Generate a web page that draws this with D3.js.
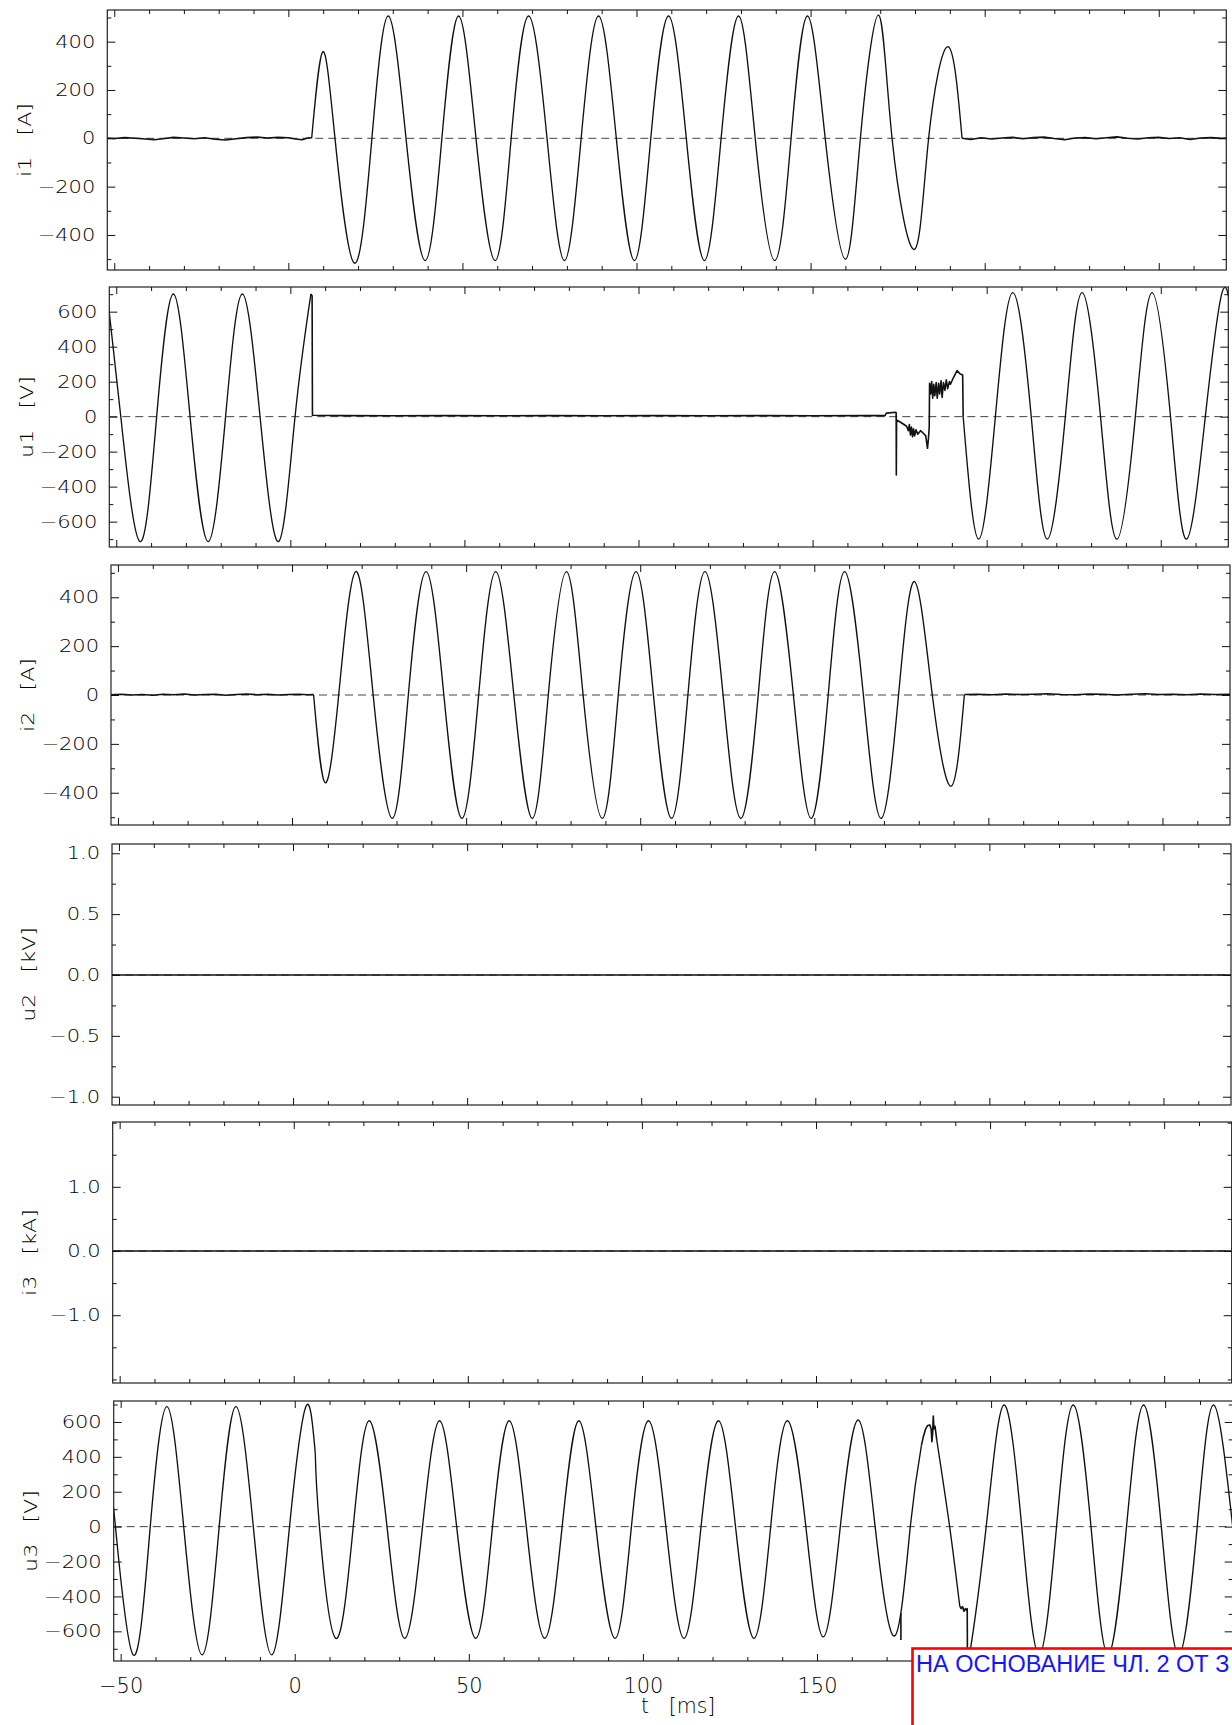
<!DOCTYPE html>
<html lang="bg">
<head>
<meta charset="UTF-8">
<title>Oscillogram i1 u1 i2 u2 i3 u3</title>
<script src="https://d3js.org/d3.v7.min.js"></script>
<style>
    body { margin: 0; background: #fff; }
    svg { display: block; background: #fff; }
</style>
</head>
<body>
<svg width="1232" height="1725"></svg>
<script>
    // time axis, ms (200 and 250 sit under the stamp, so they carry no label)
    const tMajor = [-50, 0, 50, 100, 150, 200, 250];
    const tLabels = ["−50", "0", "50", "100", "150", "", ""];

    // y tick labels of each panel
    const i1Ticks = [-400, -200, 0, 200, 400];
    const u1Ticks = [-600, -400, -200, 0, 200, 400, 600];
    const i2Ticks = [-400, -200, 0, 200, 400];
    const u2Ticks = [-1.0, -0.5, 0.0, 0.5, 1.0];
    const i3Ticks = [-1.0, 0.0, 1.0];
    const u3Ticks = [-600, -400, -200, 0, 200, 400, 600];

    // i1 [A]  (t, value)
    const i1Pre = [[-52.5, 2], [-50, -1], [-47, 3], [-44, 0], [-41, -3], [-38.5, -6], [-36, -2], [-33, 4],
        [-30, 1], [-27, -2], [-24, 2], [-21, -4], [-18, -7], [-15, -2], [-12, 3], [-9, 5], [-6, 1],
        [-3, 4], [0, 2], [2, -3], [4, -6], [5.5, 1], [6.7, 2]];
    const i1Wave = [[6.7, 0], [9.9, 358], [13.4, 0], [19.0, -517], [24.0, 0], [28.7, 506],
        [33.8, 0], [39.3, -506], [44.1, 0], [48.9, 506], [53.9, 0], [59.4, -506],
        [64.0, 0], [69.0, 506], [74.3, 0], [79.3, -506], [84.1, 0], [89.1, 506],
        [94.2, 0], [99.4, -506], [104.1, 0], [109.2, 506], [114.3, 0], [119.5, -506],
        [124.3, 0], [129.3, 506], [134.1, 0], [139.7, -506], [144.4, 0], [149.1, 506],
        [154.2, 0], [160.0, -500], [164.3, 0], [169.5, 510], [173.4, 0], [179.8, -460],
        [183.9, 0], [189.5, 379], [193.5, 0]];
    const i1Post = [[193.5, 0], [196, -5], [199, 2], [202, -3], [205, 1], [208, 4], [211, -2], [214, 3],
        [217, 5], [220, -1], [223, -6], [226, 1], [229, 3], [232, -2], [235, 2], [238, 6], [241, 0],
        [244, -3], [247, 2], [250, 4], [253, -1], [256, 2], [259, -5], [262, 1], [265, 3], [268, 0], [272, 2]];

    // u1 [V]
    const u1WaveA = [[-52.2, 630], [-48.7, 0], [-43.2, -714], [-38.4, 0], [-33.6, 701], [-28.8, 0],
        [-23.6, -714], [-18.6, 0], [-13.8, 701], [-8.7, 0], [-3.4, -714], [1.35, 0], [5.9, 701]];
    const u1Event = [[5.9, 701], [6.25, 690], [6.35, 8], [15, 6], [30, 5], [45, 6], [60, 5], [75, 6], [90, 5],
        [105, 6], [120, 5], [135, 6], [150, 5], [165, 6], [170.8, 6], [171.2, 20], [173.9, 25],
        [174.0, 22], [174.05, -333], [174.12, -19], [175.5, -35], [177.0, -55], [177.5, -80],
        [177.8, -45], [178.1, -105], [178.4, -60], [178.7, -115], [179.0, -70], [179.3, -110],
        [179.7, -75], [180.2, -100], [181.0, -80], [181.8, -95], [182.5, -110], [183.0, -181],
        [183.3, -120], [183.5, -60], [183.6, 191], [183.9, 130], [184.2, 200], [184.5, 105],
        [184.8, 185], [185.1, 120], [185.5, 195], [185.8, 105], [186.2, 190], [186.5, 130],
        [186.9, 205], [187.2, 110], [187.6, 195], [188.0, 150], [188.4, 210], [188.8, 160],
        [189.3, 200], [189.6, 185], [190.5, 225], [191.5, 263], [192.3, 245], [193.1, 238], [193.25, 0]];
    const u1WaveB = [[193.25, 0], [197.7, -700], [202.5, 0], [207.5, 709], [212.8, 0], [217.4, -700],
        [222.6, 0], [227.4, 709], [232.7, 0], [237.4, -700], [242.7, 0], [247.5, 709], [252.8, 0],
        [257.4, -700], [262.8, 0], [267.6, 709], [270.5, 555]];

    // i2 [A]
    const i2Pre = [[-52.5, 1], [-49, 3], [-46, 0], [-43, 2], [-40, -1], [-37, 3], [-34, 1], [-31, 4],
        [-28, 0], [-25, 2], [-22, 3], [-19, -1], [-16, 2], [-13, 4], [-10, 1], [-7, 3], [-4, 0],
        [-1, 2], [2, 3], [4.5, 1], [6.2, 2]];
    const i2Wave = [[6.2, 0], [9.5, -359], [13.4, 0], [18.3, 505], [23.3, 0], [28.8, -505],
        [33.4, 0], [38.5, 505], [43.6, 0], [48.8, -505], [53.6, 0], [58.5, 505],
        [63.7, 0], [69.0, -505], [73.6, 0], [78.8, 505], [83.6, 0], [89.1, -505],
        [93.7, 0], [98.8, 505], [103.8, 0], [109.0, -505], [113.7, 0], [118.6, 505],
        [123.8, 0], [128.9, -505], [133.9, 0], [138.6, 505], [144.0, 0], [149.1, -505],
        [154.0, 0], [158.7, 505], [164.1, 0], [169.2, -505], [174.2, 0], [178.8, 464],
        [183.9, 0], [189.3, -373], [193.1, 0]];
    const i2Post = [[193.1, 2], [197, 3], [201, 1], [205, 4], [209, 2], [213, 3], [217, 5], [221, 2],
        [225, 1], [229, 4], [233, 3], [237, 0], [241, 3], [245, 5], [249, 2], [253, 3], [257, 1],
        [261, 4], [265, 2], [272, 3]];

    // u2 [kV], i3 [kA]
    const u2Line = [[-53, 0], [272, 0]];
    const i3Line = [[-53, 0], [272, 0]];

    // u3 [V]
    const u3WaveA = [[-52.2, 60], [-51.5, 0], [-46.4, -735], [-41.5, 0], [-36.7, 688], [-31.9, 0],
        [-26.6, -735], [-21.7, 0], [-16.9, 688], [-11.9, 0], [-6.6, -735], [-1.5, 0], [3.2, 688], [5.9, 420]];
    const u3WaveB = [[5.9, 420], [7.1, 0], [11.8, -640], [16.8, 0], [21.4, 607], [26.5, 0],
        [31.6, -640], [36.7, 0], [41.6, 607], [46.5, 0], [52.0, -640], [56.8, 0], [61.6, 607],
        [66.5, 0], [71.8, -640], [76.8, 0], [81.6, 607], [86.5, 0], [92.0, -640], [96.7, 0],
        [101.6, 607], [106.6, 0], [111.8, -640], [116.7, 0], [121.7, 607], [126.6, 0], [131.9, -640],
        [136.7, 0], [141.5, 607], [146.8, 0], [151.8, -632], [156.7, 0], [161.8, 611], [166.7, 0],
        [172.3, -626], [176.8, 0], [180.0, 466]];
    const u3Spike = [[174.1, -496], [174.1, -649]];
    const u3PeakNoise = [[180.0, 466], [180.6, 520], [181.2, 560], [181.8, 580], [182.4, 583],
        [182.8, 560], [183.0, 487], [183.2, 530], [183.4, 634], [183.6, 560], [183.9, 575], [184.4, 497]];
    const u3WaveC = [[184.4, 497], [188.1, 0], [191.0, -455]];
    const u3Drop = [[191.0, -455], [191.4, -470], [191.8, -458], [192.2, -485], [192.6, -470],
        [193.0, -480], [193.15, -470], [193.2, -700]];
    const u3WaveD = [[193.2, -700], [193.8, -735], [198.6, 0], [203.7, 697], [208.8, 0], [213.8, -735],
        [218.8, 0], [223.6, 697], [228.7, 0], [233.6, -735], [238.9, 0], [243.8, 697], [248.9, 0],
        [253.9, -735], [259.2, 0], [263.9, 697], [269.4, 0]];

    const stampText = "НА ОСНОВАНИЕ ЧЛ. 2 ОТ З";

    const svg = d3.select("svg");
    const font = "'DejaVu Sans', 'Liberation Sans', sans-serif";
    const x = d3.scaleLinear().domain([-52, 269.4]).range([111, 1230]);
    const [x0, x1] = x.range();

    // shift: the scanned sheet is slightly skewed, each panel sits a bit more to the right
    const panels = [
        {name: "i1", unit: "A", top: 10, bottom: 270, shift: -3.7, domain: [-545, 531], ticks: i1Ticks, step: 100,
            fmt: d3.format("d"), series: [[i1Pre, "lin"], [i1Wave, "nat"], [i1Post, "lin"]]},
        {name: "u1", unit: "V", top: 287, bottom: 547, shift: -1.7, domain: [-745, 741], ticks: u1Ticks, step: 100,
            fmt: d3.format("d"), series: [[u1WaveA, "nat"], [u1Event, "lin"], [u1WaveB, "nat"]]},
        {name: "i2", unit: "A", top: 565, bottom: 825, shift: 0, domain: [-532, 532], ticks: i2Ticks, step: 100,
            fmt: d3.format("d"), series: [[i2Pre, "lin"], [i2Wave, "nat"], [i2Post, "lin"]]},
        {name: "u2", unit: "kV", top: 844, bottom: 1105, shift: 1, domain: [-1.068, 1.076], ticks: u2Ticks, step: 0.25,
            fmt: d3.format(".1f"), series: [[u2Line, "lin"]]},
        {name: "i3", unit: "kA", top: 1122, bottom: 1383, shift: 1.7, domain: [-2.056, 2.01], ticks: i3Ticks, step: 0.5,
            fmt: d3.format(".1f"), series: [[i3Line, "lin"]]},
        {name: "u3", unit: "V", top: 1401, bottom: 1661, shift: 2.7, domain: [-770, 720], ticks: u3Ticks, step: 100,
            fmt: d3.format("d"), series: [[u3WaveA, "nat"], [u3WaveB, "nat"], [u3Spike, "lin"],
                [u3PeakNoise, "lin"], [u3WaveC, "nat"], [u3Drop, "lin"], [u3WaveD, "nat"]]}
    ];

    // the plotting font is wide and short, so stretch glyphs sideways
    function styleAxis(sel, size, sx) {
        sel.attr("font-family", null).attr("font-size", null).style("color", "#111");
        sel.select(".domain").remove();
        sel.selectAll("line").attr("stroke-width", 1);
        sel.selectAll("text").each(function () {
            const t = d3.select(this);
            const xv = +t.attr("x") || 0;
            t.attr("x", xv / sx)
                .attr("transform", `scale(${sx},1)`)
                .attr("font-family", font)
                .attr("font-size", size)
                .attr("font-weight", 200)
                .attr("fill", "#000");
        });
    }

    panels.forEach((p, k) => {
        const y = d3.scaleLinear().domain(p.domain).range([p.bottom, p.top]);
        const g = svg.append("g").attr("transform", `translate(${p.shift},0)`);

        const clipId = "clip" + k;
        g.append("clipPath").attr("id", clipId)
            .append("rect")
            .attr("x", x0).attr("y", p.top)
            .attr("width", x1 - x0).attr("height", p.bottom - p.top);

        // dashed zero line
        g.append("line")
            .attr("x1", x0).attr("x2", x1)
            .attr("y1", y(0)).attr("y2", y(0))
            .attr("stroke", "#444")
            .attr("stroke-width", 1)
            .attr("stroke-dasharray", "8,5");

        // traces
        p.series.forEach(([pts, kind]) => {
            const line = d3.line()
                .x(d => x(d[0]))
                .y(d => y(d[1]))
                .curve(kind === "nat" ? d3.curveNatural : d3.curveLinear);
            g.append("path")
                .datum(pts)
                .attr("d", line)
                .attr("fill", "none")
                .attr("stroke", "#111")
                .attr("stroke-width", kind === "nat" ? 1.35 : 1.6)
                .attr("stroke-linejoin", "round")
                .attr("clip-path", `url(#${clipId})`);
        });

        // frame
        g.append("rect")
            .attr("x", x0).attr("y", p.top)
            .attr("width", x1 - x0).attr("height", p.bottom - p.top)
            .attr("fill", "none")
            .attr("stroke", "#222")
            .attr("stroke-width", 1.2);

        // minor ticks
        const [lo, hi] = p.domain;
        const yMinor = d3.range(Math.ceil(lo / p.step) * p.step, hi, p.step)
            .filter(v => !p.ticks.some(t => Math.abs(t - v) < 1e-9));
        const tMinor = d3.range(-50, 269, 10).filter(v => !tMajor.includes(v));

        g.append("g").attr("transform", `translate(${x0},0)`)
            .call(d3.axisLeft(y).tickValues(p.ticks).tickFormat(p.fmt).tickSize(-8).tickSizeOuter(0).tickPadding(12))
            .call(s => styleAxis(s, 17.5, 1.2));
        g.append("g").attr("transform", `translate(${x0},0)`)
            .call(d3.axisLeft(y).tickValues(yMinor).tickFormat("").tickSize(-4).tickSizeOuter(0))
            .call(s => styleAxis(s, 17.5, 1));
        g.append("g").attr("transform", `translate(${x1},0)`)
            .call(d3.axisRight(y).tickValues(p.ticks).tickFormat("").tickSize(-8).tickSizeOuter(0))
            .call(s => styleAxis(s, 17.5, 1));
        g.append("g").attr("transform", `translate(${x1},0)`)
            .call(d3.axisRight(y).tickValues(yMinor).tickFormat("").tickSize(-4).tickSizeOuter(0))
            .call(s => styleAxis(s, 17.5, 1));

        g.append("g").attr("transform", `translate(0,${p.top})`)
            .call(d3.axisTop(x).tickValues(tMajor).tickFormat("").tickSize(-7).tickSizeOuter(0))
            .call(s => styleAxis(s, 20, 1));
        g.append("g").attr("transform", `translate(0,${p.top})`)
            .call(d3.axisTop(x).tickValues(tMinor).tickFormat("").tickSize(-4).tickSizeOuter(0))
            .call(s => styleAxis(s, 20, 1));
        const last = k === panels.length - 1;
        g.append("g").attr("transform", `translate(0,${p.bottom})`)
            .call(d3.axisBottom(x).tickValues(tMajor)
                .tickFormat((d, i) => last ? tLabels[i] : "")
                .tickSize(-7).tickSizeOuter(0).tickPadding(17))
            .call(s => styleAxis(s, 20.5, 1.02));
        g.append("g").attr("transform", `translate(0,${p.bottom})`)
            .call(d3.axisBottom(x).tickValues(tMinor).tickFormat("").tickSize(-4).tickSizeOuter(0))
            .call(s => styleAxis(s, 20, 1));

        // y title, rotated
        g.append("text")
            .attr("transform", `translate(28,${(p.top + p.bottom) / 2}) rotate(-90) scale(1.2,1)`)
            .attr("text-anchor", "middle")
            .attr("dominant-baseline", "central")
            .attr("font-family", font)
            .attr("font-size", 18.5)
            .attr("font-weight", 200)
            .attr("fill", "#000")
            .attr("xml:space", "preserve")
            .style("white-space", "pre")
            .text(`${p.name}   [${p.unit}]`);

        if (last) {
            // x title
            g.append("text")
                .attr("x", (x0 + x1) / 2 + 5)
                .attr("y", 1713)
                .attr("text-anchor", "middle")
                .attr("font-family", font)
                .attr("font-size", 20.5)
                .attr("font-weight", 200)
                .attr("fill", "#000")
                .attr("xml:space", "preserve")
                .style("white-space", "pre")
                .text("t   [ms]");
        }
    });

    // redaction stamp over the lower right corner
    svg.append("rect")
        .attr("x", 912.5).attr("y", 1648.5)
        .attr("width", 400).attr("height", 120)
        .attr("fill", "#fff")
        .attr("stroke", "#ff0000")
        .attr("stroke-width", 2.6);
    svg.append("text")
        .attr("x", 916)
        .attr("y", 1672)
        .attr("font-family", "'Liberation Sans', Arial, sans-serif")
        .attr("font-size", 23.5)
        .attr("fill", "#1414ff")
        .text(stampText);
</script>
</body>
</html>
